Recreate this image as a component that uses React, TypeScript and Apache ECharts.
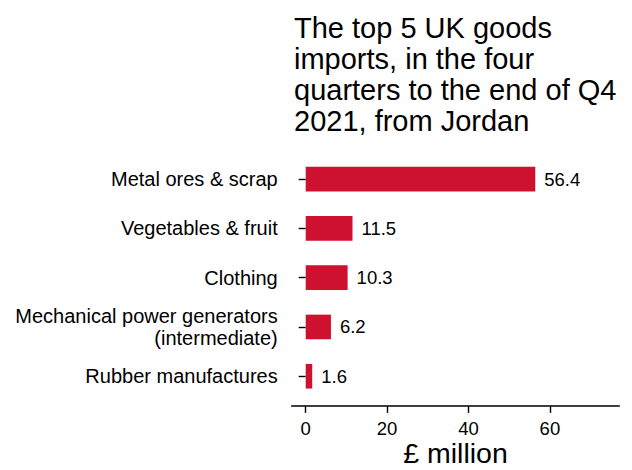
import React, { useEffect, useRef } from "react";
import * as echarts from "echarts";

const titleLines = [
  "The top 5 UK goods",
  "imports, in the four",
  "quarters to the end of Q4",
  "2021, from Jordan",
];
const categories = [
  "Metal ores & scrap",
  "Vegetables & fruit",
  "Clothing",
  "Mechanical power generators\n(intermediate)",
  "Rubber manufactures",
];
const values = [56.4, 11.5, 10.3, 6.2, 1.6];
const xTicks = [0, 20, 40, 60];
const xAxisName = "£ million";

const FONT = "'Liberation Sans', Arial, sans-serif";

export default function App() {
  const ref = useRef<HTMLDivElement>(null);
  useEffect(() => {
    if (!ref.current) return;
    const chart = echarts.init(ref.current, undefined, { renderer: "svg" });
    chart.setOption({
      animation: false,
      backgroundColor: "#ffffff",
      title: {
        text: titleLines.join("\n"),
        left: 289,
        top: 7,
        textStyle: {
          fontFamily: FONT,
          fontSize: 29,
          fontWeight: "normal",
          color: "#000000",
          lineHeight: 31,
        },
      },
      grid: {
        left: 291.7,
        right: 12.7,
        top: 154.4,
        height: 246.5,
        containLabel: false,
        outerBoundsMode: "none",
      },
      xAxis: {
        type: "value",
        min: -3.44,
        max: 77.05,
        offset: 5,
        splitLine: { show: false },
        axisLine: { show: true, lineStyle: { color: "#000", width: 1.6 } },
        axisTick: {
          show: true,
          length: 7,
          lineStyle: { color: "#000", width: 1.4 },
          customValues: xTicks,
        },
        axisLabel: {
          customValues: xTicks,
          margin: 13,
          fontFamily: FONT,
          fontSize: 18.5,
          color: "#000",
        },
        name: xAxisName,
        nameLocation: "middle",
        nameGap: 33,
        nameMoveOverlap: false,
        nameTextStyle: {
          fontFamily: FONT,
          fontSize: 28.5,
          color: "#000",
          lineHeight: 28,
        },
      },
      yAxis: {
        type: "category",
        inverse: true,
        data: categories,
        axisLine: { show: false },
        axisTick: {
          show: true,
          alignWithLabel: true,
          inside: false,
          length: 7,
          lineStyle: { color: "#000", width: 1.4 },
        },
        axisLabel: {
          margin: 14,
          fontFamily: FONT,
          fontSize: 20,
          color: "#000",
          lineHeight: 21.5,
          align: "right",
        },
        splitLine: { show: false },
      },
      series: [
        {
          type: "bar",
          data: values,
          barWidth: "50%",
          itemStyle: { color: "#CF1130" },
          label: {
            show: true,
            position: "right",
            distance: 9,
            fontFamily: FONT,
            fontSize: 18.5,
            color: "#000",
            formatter: (p: any) => p.value.toFixed(1),
          },
        },
      ],
    });
    return () => chart.dispose();
  }, []);
  return (
    <div
      ref={ref}
      style={{ position: "fixed", left: 0, top: 0, width: 632, height: 470 }}
    />
  );
}
